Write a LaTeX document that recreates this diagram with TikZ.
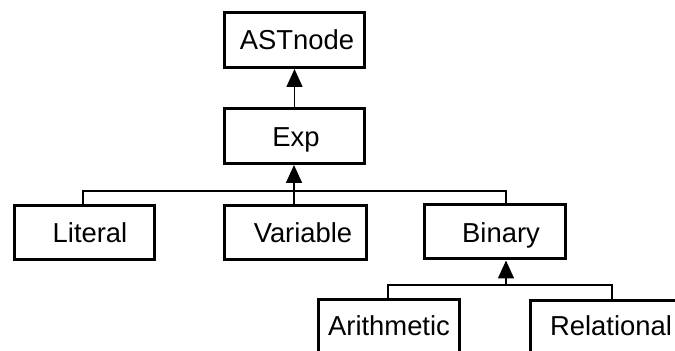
\documentclass[tikz,border=0pt]{standalone}
\usepackage{fontspec}
\setmainfont{Liberation Sans}
\usetikzlibrary{arrows.meta}
\begin{document}
\begin{tikzpicture}[x=0.5pt,y=-0.5pt,
  box/.style={draw, line width=1.5pt, minimum height=27.5pt, inner sep=0pt},
  lbl/.style={anchor=base, font=\fontsize{13.7}{16}\selectfont, inner sep=0pt},
  conn/.style={line width=0.7pt},
  arr/.style={line width=0.8pt, -{Triangle[length=9pt,width=8pt]}}]
\clip (0,0) rectangle (675,351);
\useasboundingbox (0,0) rectangle (675,351);
% boxes
\node[box, minimum width=70pt] (ast) at (294.5,40) {};
\node[box, minimum width=70pt] (exp) at (294.5,136) {};
\node[box, minimum width=70pt, minimum height=27pt] (lit) at (84.5,232.5) {};
\node[box, minimum width=71pt, minimum height=27pt] (var) at (295.5,232.5) {};
\node[box, minimum width=70.5pt, minimum height=27pt] (bin) at (495,232) {};
\node[box, minimum width=70.5pt] (ari) at (389,327) {};
\node[box, minimum width=80.5pt] (rel) at (611,328) {};
% labels
\node[lbl] (astt) at (297,50) {ASTnode};
\node[lbl] (expt) at (296,147) {Exp};
\node[lbl] (litt) at (90,243) {Literal};
\node[lbl] (vart) at (303,243) {Variable};
\node[lbl] (bint) at (501,243) {Binary};
\node[lbl] (arit) at (389,336) {Arithmetic};
\node[lbl] (relt) at (611,336) {Relational};
% bus coordinates
\coordinate (b1l) at (83,191);
\coordinate (vx) at (294,191);
\coordinate (b1r) at (506,191);
\coordinate (b2l) at (388,285);
\coordinate (b2m) at (506,285);
\coordinate (b2r) at (612,285);
% connectors
\draw[arr] (exp.north) -- (ast.south);
\draw[conn] (lit.north -| b1l) -- (b1l) -- (b1r) -- (bin.north -| b1r);
\draw[arr] (var.north -| vx) -- (exp.south -| vx);
\draw[conn] (ari.north -| b2l) -- (b2l) -- (b2r) -- (rel.north -| b2r);
\draw[arr] (b2m) -- (bin.south -| b2m);
\end{tikzpicture}
\end{document}
